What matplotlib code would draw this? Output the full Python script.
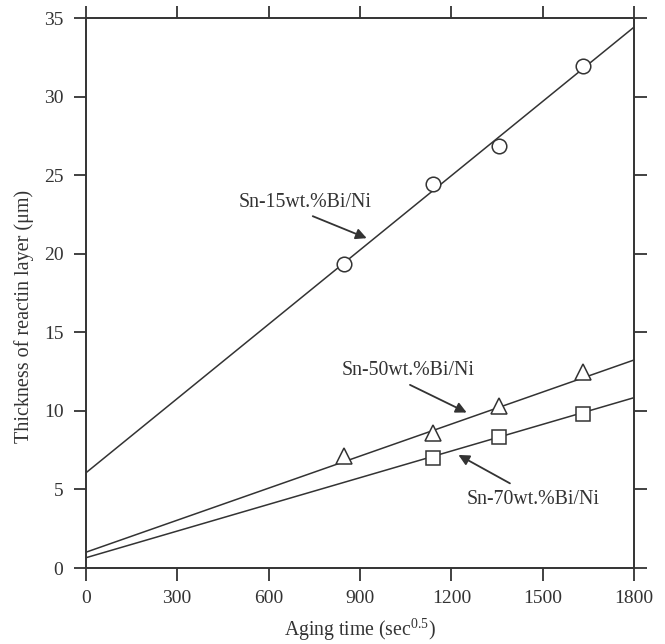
import numpy as np
import matplotlib
matplotlib.use("Agg")
import matplotlib.pyplot as plt

plt.rcParams['font.family'] = ['Liberation Serif', 'DejaVu Serif']
plt.rcParams['mathtext.fontset'] = 'custom'
plt.rcParams['mathtext.rm'] = 'Liberation Serif'

# aging time (sec^0.5) and layer thickness (um)
time_15 = [849, 1138, 1356, 1632]
thick_15 = [19.35, 24.45, 26.9, 31.95]
time_50 = [849, 1138, 1356, 1632]
thick_50 = [7.1, 8.6, 10.3, 12.5]
time_70 = [1138, 1356, 1632]
thick_70 = [7.0, 8.35, 9.8]

# fitted lines, read at both ends of the axis
fit_x = [0, 1800]
fit_15 = [6.05, 34.45]
fit_50 = [1.0, 13.25]
fit_70 = [0.65, 10.85]

xticks = [0, 300, 600, 900, 1200, 1500, 1800]
yticks = [0, 5, 10, 15, 20, 25, 30, 35]

ink = '#333333'

fig = plt.figure(figsize=(6.65, 6.44), dpi=100)
ax = fig.add_axes([0.1289, 0.118, 0.8249, 0.8536])

ax.plot(fit_x, fit_15, color=ink, lw=1.1)
ax.plot(fit_x, fit_50, color=ink, lw=1.1)
ax.plot(fit_x, fit_70, color=ink, lw=1.1)

ax.plot(time_15, thick_15, 'o', ms=10.5, mfc='white', mec=ink, mew=1.1)
ax.plot(time_50, thick_50, '^', ms=11, mfc='white', mec=ink, mew=1.1)
ax.plot(time_70, thick_70, 's', ms=10, mfc='white', mec=ink, mew=1.1)

ax.set_xlim(0, 1800)
ax.set_ylim(0, 35)
ax.set_xticks(xticks)
ax.set_yticks(yticks)
ax.tick_params(direction='out', length=9, width=1.3, colors=ink, labelsize=14,
               top=True, right=True, labeltop=False, labelright=False, pad=7)
for s in ax.spines.values():
    s.set_color(ink)
    s.set_linewidth(1.4)

ax.set_xlabel(r'Aging time (sec$^{\mathrm{0.5}}$)', fontsize=14.2, color=ink)
ax.set_ylabel('Thickness of reactin layer (μm)', fontsize=14.5, color=ink)
ax.xaxis.set_label_coords(0.5, -0.088)
ax.yaxis.set_label_coords(-0.095, 0.457)

arrow = dict(arrowstyle='-|>', color=ink, lw=1.3, mutation_scale=16, shrinkA=0, shrinkB=0)
ax.annotate('', xy=(922, 21.0), xytext=(745, 22.4), arrowprops=arrow)
ax.text(720, 23.3, 'Sn-15wt.%Bi/Ni', fontsize=14.3, color=ink, ha='center', va='center')
ax.annotate('', xy=(1250, 9.9), xytext=(1064, 11.66), arrowprops=arrow)
ax.text(1059, 12.6, 'Sn-50wt.%Bi/Ni', fontsize=14.3, color=ink, ha='center', va='center')
ax.annotate('', xy=(1223, 7.2), xytext=(1392, 5.39), arrowprops=arrow)
ax.text(1469, 4.33, 'Sn-70wt.%Bi/Ni', fontsize=14.3, color=ink, ha='center', va='center')

fig.savefig('out.png', dpi=100)
